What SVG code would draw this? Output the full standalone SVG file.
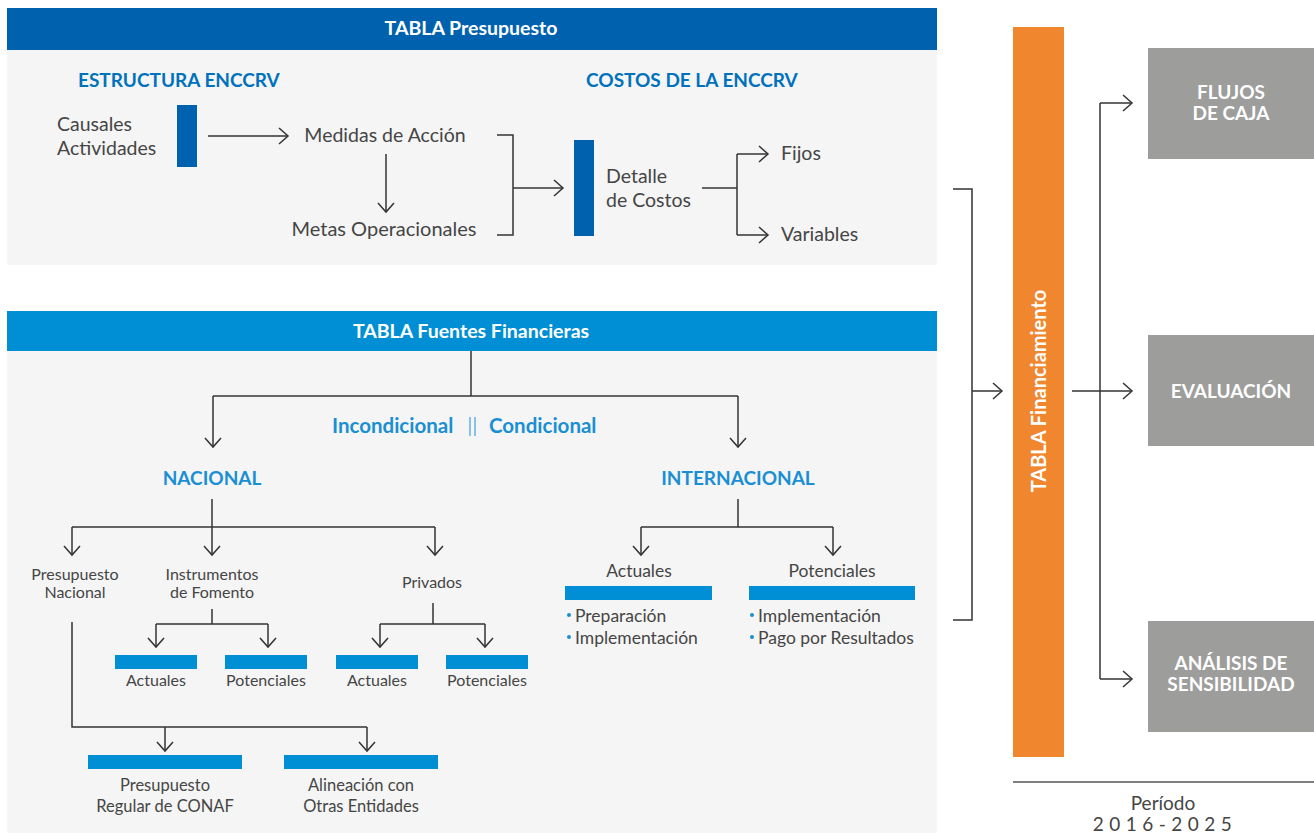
<svg xmlns="http://www.w3.org/2000/svg" width="1314" height="835" viewBox="0 0 1314 835">
<style>
text{font-family:Lato,"Open Sans","Liberation Sans",sans-serif;}
.hdr{fill:#fff;font-weight:700;font-size:19.5px;text-anchor:middle;}
.sec{fill:#0072BC;font-weight:700;font-size:19px;}
.sec2{fill:#1A8FD3;font-weight:700;font-size:19px;text-anchor:middle;}
.cond{fill:#1A8FD3;font-weight:700;font-size:20.5px;}
.t{fill:#454545;font-size:19.5px;}
.s{fill:#454545;font-size:16px;text-anchor:middle;}
.sl{fill:#454545;font-size:16.5px;text-anchor:middle;}
.m{fill:#454545;font-size:17.5px;}
.box{fill:#fff;font-weight:700;font-size:19px;text-anchor:middle;}
.c{fill:none;stroke:#333;stroke-width:1.5;}
.bar1{fill:#0062AE;}
.bar2{fill:#008FD5;}
.grey{fill:#9D9D9C;}
</style>
<defs>
<marker id="ah" markerUnits="userSpaceOnUse" markerWidth="20" markerHeight="20" refX="10" refY="10" orient="auto" overflow="visible">
<path d="M1,2 L10,10 L1,18" fill="none" stroke="#333" stroke-width="1.5"/>
</marker>
</defs>
<rect width="1314" height="835" fill="#fff"/>

<g id="panel-presupuesto">
<rect x="7" y="50" width="930" height="215" fill="#F5F5F5"/>
<rect x="7" y="8" width="930" height="42" class="bar1"/>
<text x="471" y="35" class="hdr">TABLA Presupuesto</text>
<text x="78" y="87" class="sec">ESTRUCTURA ENCCRV</text>
<text x="586" y="87" class="sec">COSTOS DE LA ENCCRV</text>
</g>

<g id="node-causales">
<text x="57" y="131" class="t">Causales</text>
<text x="57" y="155" class="t">Actividades</text>
<rect x="177" y="105" width="20" height="62" class="bar1"/>
</g>
<g id="node-medidas"><text x="385" y="142" class="t" text-anchor="middle">Medidas de Acción</text></g>
<g id="node-metas"><text x="384" y="236" class="t" text-anchor="middle" style="font-size:20px">Metas Operacionales</text></g>
<g id="node-detalle">
<rect x="574" y="140" width="20" height="96" class="bar1"/>
<text x="606" y="183" class="t">Detalle</text>
<text x="606" y="207" class="t">de Costos</text>
</g>
<g id="node-fijos"><text x="781" y="160" class="t">Fijos</text></g>
<g id="node-variables"><text x="781" y="241" class="t">Variables</text></g>

<g id="panel-fuentes">
<rect x="7" y="351" width="930" height="482" fill="#F5F5F5"/>
<rect x="7" y="311" width="930" height="40" class="bar2"/>
<text x="471" y="338" class="hdr">TABLA Fuentes Financieras</text>
<text x="332" y="433" class="cond">Incondicional</text>
<line x1="470" y1="417" x2="470" y2="436" stroke="#1A8FD3" stroke-width="1"/>
<line x1="475" y1="417" x2="475" y2="436" stroke="#1A8FD3" stroke-width="1"/>
<text x="489" y="433" class="cond">Condicional</text>
</g>

<g id="node-nacional"><text x="212" y="485" class="sec2">NACIONAL</text></g>
<g id="node-internacional"><text x="738" y="485" class="sec2">INTERNACIONAL</text></g>

<g id="node-presupuesto-nacional">
<text x="75" y="580" class="s">Presupuesto</text>
<text x="75" y="598" class="s">Nacional</text>
</g>
<g id="node-instrumentos">
<text x="212" y="580" class="s">Instrumentos</text>
<text x="212" y="598" class="s">de Fomento</text>
</g>
<g id="node-privados"><text x="432" y="588" class="s">Privados</text></g>

<g id="node-if-actuales"><rect x="115" y="655" width="82" height="14" class="bar2"/><text x="156" y="686" class="s">Actuales</text></g>
<g id="node-if-potenciales"><rect x="225" y="655" width="82" height="14" class="bar2"/><text x="266" y="686" class="s">Potenciales</text></g>
<g id="node-pr-actuales"><rect x="336" y="655" width="82" height="14" class="bar2"/><text x="377" y="686" class="s">Actuales</text></g>
<g id="node-pr-potenciales"><rect x="446" y="655" width="82" height="14" class="bar2"/><text x="487" y="686" class="s">Potenciales</text></g>

<g id="node-conaf"><rect x="88" y="755" width="154" height="14" class="bar2"/><text x="165" y="791" class="sl">Presupuesto</text><text x="165" y="812" class="sl">Regular de CONAF</text></g>
<g id="node-alineacion"><rect x="284" y="755" width="154" height="14" class="bar2"/><text x="361" y="791" class="sl">Alineación con</text><text x="361" y="812" class="sl">Otras Entidades</text></g>

<g id="node-int-actuales">
<text x="639" y="577" class="sl" style="font-size:17.5px">Actuales</text>
<rect x="565" y="586" width="147" height="14" class="bar2"/>
<circle cx="569" cy="615" r="2" fill="#1A8FD3"/><text x="575" y="622" class="m">Preparación</text>
<circle cx="569" cy="637" r="2" fill="#1A8FD3"/><text x="575" y="644" class="m">Implementación</text>
</g>
<g id="node-int-potenciales">
<text x="832" y="577" class="sl" style="font-size:17.5px">Potenciales</text>
<rect x="749" y="586" width="166" height="14" class="bar2"/>
<circle cx="752" cy="615" r="2" fill="#1A8FD3"/><text x="758" y="622" class="m">Implementación</text>
<circle cx="752" cy="637" r="2" fill="#1A8FD3"/><text x="758" y="644" class="m">Pago por Resultados</text>
</g>

<g id="node-financiamiento">
<rect x="1013" y="27" width="51" height="730" fill="#F0862E"/>
<text transform="translate(1046,391) rotate(-90)" class="hdr" style="font-size:20px">TABLA Financiamiento</text>
</g>
<g id="node-flujos"><rect x="1148" y="48" width="166" height="111" class="grey"/><text x="1231" y="99" class="box">FLUJOS</text><text x="1231" y="120" class="box">DE CAJA</text></g>
<g id="node-evaluacion"><rect x="1148" y="335" width="166" height="111" class="grey"/><text x="1231" y="398" class="box">EVALUACIÓN</text></g>
<g id="node-sensibilidad"><rect x="1148" y="621" width="166" height="111" class="grey"/><text x="1231" y="670" class="box">ANÁLISIS DE</text><text x="1231" y="691" class="box">SENSIBILIDAD</text></g>
<g id="node-periodo">
<line x1="1013" y1="782" x2="1314" y2="782" stroke="#555" stroke-width="1.5"/>
<text x="1163" y="810" class="s" style="font-size:19px">Período</text>
<text x="1165" y="831" class="s" style="font-size:19px;letter-spacing:5.5px">2016-2025</text>
</g>

<g id="connectors" class="c">
<path d="M208,136 H288" marker-end="url(#ah)"/>
<path d="M386,154 V212" marker-end="url(#ah)"/>
<path d="M497,135 H513 V235 H497"/>
<path d="M513,188 H563" marker-end="url(#ah)"/>
<path d="M702,188 H737"/>
<path d="M737,154 V235"/>
<path d="M737,154 H768" marker-end="url(#ah)"/>
<path d="M737,235 H768" marker-end="url(#ah)"/>

<path d="M471,351 V396"/>
<path d="M213,396 H738"/>
<path d="M213,396 V447" marker-end="url(#ah)"/>
<path d="M738,396 V447" marker-end="url(#ah)"/>

<path d="M212,499 V527"/>
<path d="M72,527 H435"/>
<path d="M72,527 V555" marker-end="url(#ah)"/>
<path d="M212,527 V555" marker-end="url(#ah)"/>
<path d="M435,527 V555" marker-end="url(#ah)"/>

<path d="M212,609 V624 M156,624 H268"/>
<path d="M156,624 V647" marker-end="url(#ah)"/>
<path d="M268,624 V647" marker-end="url(#ah)"/>

<path d="M433,603 V624 M380,624 H485"/>
<path d="M380,624 V647" marker-end="url(#ah)"/>
<path d="M485,624 V647" marker-end="url(#ah)"/>

<path d="M72,622 V727 H367"/>
<path d="M165,727 V751" marker-end="url(#ah)"/>
<path d="M367,727 V751" marker-end="url(#ah)"/>

<path d="M738,499 V527 M641,527 H833"/>
<path d="M641,527 V555" marker-end="url(#ah)"/>
<path d="M833,527 V555" marker-end="url(#ah)"/>

<path d="M953,189 H972 V620 H953"/>
<path d="M972,391 H1002" marker-end="url(#ah)"/>
<path d="M1072,391 H1132" marker-end="url(#ah)"/>
<path d="M1100,103 V679"/>
<path d="M1100,103 H1132" marker-end="url(#ah)"/>
<path d="M1100,679 H1132" marker-end="url(#ah)"/>
</g>
</svg>
